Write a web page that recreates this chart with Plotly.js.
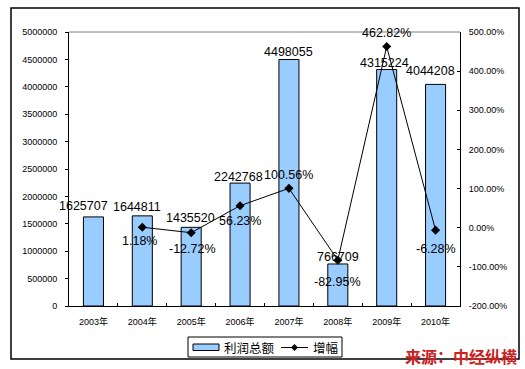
<!DOCTYPE html>
<html>
<head>
<meta charset="utf-8">
<script src="https://cdn.plot.ly/plotly-3.0.1.min.js"></script>
<style>html,body{margin:0;padding:0;background:#fff;}#chart{width:525px;height:369px;}</style>
</head>
<body>
<div id="chart"></div>
<script>
var years = ['2003年','2004年','2005年','2006年','2007年','2008年','2009年','2010年'];
var profit = [1625707,1644811,1435520,2242768,4498055,766709,4315224,4044208];
var growth = [null,1.18,-12.72,56.23,100.56,-82.95,462.82,-6.28];
var leftTicks = [0,500000,1000000,1500000,2000000,2500000,3000000,3500000,4000000,4500000,5000000];
var rightTicks = [-200,-100,0,100,200,300,400,500];
var seriesNames = ['利润总额','增幅'];

// style: pixel offsets of data labels relative to their mark (positive = up / right)
var growthLabelShift = [0,-14,-16,-15,13,-22,14,-19];
var growthLabelShiftX = [0,-3,1,0,0,0,0,0];
var barLabelShift = [11,8.5,9.5,6.5,8,7,6.5,13];
var barLabelShiftX = [-10,-5,-1,-2,0,0,-2,-5];

var F = 'Liberation Sans, Arial, Noto Sans CJK SC, sans-serif';

var traces = [
  {
    type: 'bar', name: seriesNames[0], x: years, y: profit,
    width: 0.41,
    marker: {color: '#99CCFF', line: {color: '#000', width: 1}},
    cliponaxis: false, hoverinfo: 'none', showlegend: false
  },
  {
    type: 'scatter', name: seriesNames[1], x: years, y: growth, yaxis: 'y2',
    mode: 'lines+markers',
    line: {color: '#000', width: 1},
    marker: {symbol: 'diamond', size: 7, color: '#000'},
    cliponaxis: false, connectgaps: false, hoverinfo: 'none', showlegend: false
  }
];

var pl = 69, pr = 525 - 460, pt = 32, pb = 369 - 306;
var pw = 525 - pl - pr, ph = 369 - pt - pb;
function px(x){ return (x - pl) / pw; }
function py(y){ return (369 - pb - y) / ph; }

var annotations = [];
profit.forEach(function(v, i){
  annotations.push({
    text: String(v), x: years[i], y: v, xref: 'x', yref: 'y',
    xanchor: 'center', yanchor: 'middle', yshift: barLabelShift[i], xshift: barLabelShiftX[i],
    showarrow: false, font: {family: F, size: 12.5, color: '#000'}
  });
});
growth.forEach(function(v, i){
  if (v === null) return;
  annotations.push({
    text: v.toFixed(2) + '%', x: years[i], y: v, xref: 'x', yref: 'y2',
    xanchor: 'center', yanchor: 'middle', yshift: growthLabelShift[i], xshift: growthLabelShiftX[i],
    showarrow: false, font: {family: F, size: 12.5, color: '#000'}
  });
});
annotations.push(
  {text: seriesNames[0], xref: 'paper', yref: 'paper', x: px(222), y: py(347.5),
   xanchor: 'left', yanchor: 'middle', showarrow: false,
   font: {family: 'Noto Sans CJK SC, sans-serif', size: 12.5, color: '#000'}},
  {text: seriesNames[1], xref: 'paper', yref: 'paper', x: px(311), y: py(347.5),
   xanchor: 'left', yanchor: 'middle', showarrow: false,
   font: {family: 'Noto Sans CJK SC, sans-serif', size: 12.5, color: '#000'}},
  {text: '<b>来源：中经纵横</b>', xref: 'paper', yref: 'paper', x: px(461), y: py(356),
   xanchor: 'center', yanchor: 'middle', showarrow: false,
   font: {family: 'Noto Sans CJK SC, sans-serif', size: 16, color: '#CC2222'}}
);

var layout = {
  width: 525, height: 369,
  margin: {l: pl, r: pr, t: pt, b: pb, pad: 0, autoexpand: false},
  paper_bgcolor: '#fff', plot_bgcolor: '#fff',
  font: {family: F, size: 9, color: '#000'},
  showlegend: false,
  bargap: 0.59,
  xaxis: {
    type: 'category', range: [-0.5, years.length - 0.5], autorange: false,
    showgrid: false, zeroline: false,
    showline: true, linecolor: '#000', linewidth: 1,
    ticks: 'inside', tickson: 'boundaries', ticklen: 3, tickcolor: '#000',
    tickfont: {family: F, size: 9, color: '#000'},
    ticklabelstandoff: 7,
    fixedrange: true
  },
  yaxis: {
    range: [0, 5000000], autorange: false, tickvals: leftTicks, ticktext: leftTicks.map(String),
    showgrid: false, zeroline: false,
    showline: true, linecolor: '#000', linewidth: 1,
    ticks: 'outside', ticklen: 3, tickcolor: '#000',
    tickfont: {family: F, size: 9, color: '#000'},
    ticklabelstandoff: 6,
    fixedrange: true
  },
  yaxis2: {
    overlaying: 'y', side: 'right', range: [-200, 500], autorange: false,
    tickvals: rightTicks, ticktext: rightTicks.map(function(v){ return v.toFixed(2) + '%'; }),
    showgrid: false, zeroline: false,
    showline: true, linecolor: '#000', linewidth: 1,
    ticks: 'inside', ticklen: 3, tickcolor: '#000',
    tickfont: {family: F, size: 9, color: '#000'},
    ticklabelstandoff: 6,
    fixedrange: true
  },
  shapes: [
    {type: 'line', xref: 'paper', yref: 'paper', x0: 0, x1: 1, y0: 1, y1: 1, line: {color: '#808080', width: 1}},
    {type: 'rect', xref: 'paper', yref: 'paper', x0: px(11), x1: px(519), y0: py(359), y1: py(8), line: {color: '#000', width: 1.5}, layer: 'below'},
    {type: 'rect', xref: 'paper', yref: 'paper', x0: px(188), x1: px(342), y0: py(357), y1: py(337), line: {color: '#000', width: 1}, fillcolor: '#fff'},
    {type: 'rect', xref: 'paper', yref: 'paper', x0: px(193), x1: px(219), y0: py(350.5), y1: py(344), line: {color: '#000', width: 1}, fillcolor: '#99CCFF'},
    {type: 'line', xref: 'paper', yref: 'paper', x0: px(281), x1: px(308), y0: py(347.5), y1: py(347.5), line: {color: '#000', width: 1}},
    {type: 'path', xref: 'paper', yref: 'paper', xsizemode: 'pixel', ysizemode: 'pixel', xanchor: px(294.5), yanchor: py(347.5),
     path: 'M0,3.5 L3.5,0 L0,-3.5 L-3.5,0 Z', fillcolor: '#000', line: {color: '#000', width: 0}}
  ],
  annotations: annotations
};

Plotly.newPlot('chart', traces, layout, {displayModeBar: false, staticPlot: true});
</script>
</body>
</html>
